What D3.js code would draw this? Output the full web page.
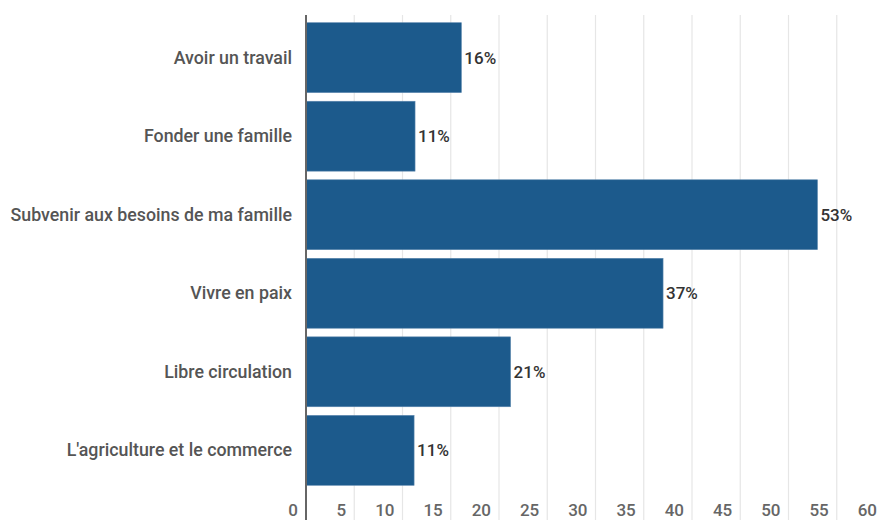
<!DOCTYPE html>
<html>
<head>
<meta charset="utf-8">
<script src="https://d3js.org/d3.v7.min.js"></script>
<style>
  body { margin: 0; background: #fff; }
  text { font-family: Roboto, "Noto Sans", sans-serif; }
</style>
</head>
<body>
<div id="chart"></div>
<script>
// データ
var categories = ["Avoir un travail", "Fonder une famille", "Subvenir aux besoins de ma famille",
                  "Vivre en paix", "Libre circulation", "L'agriculture et le commerce"];
var values = [16.1, 11.3, 53, 37, 21.2, 11.2];
var tickValues = [0, 5, 10, 15, 20, 25, 30, 35, 40, 45, 50, 55, 60];

var width = 880, height = 520;
var x0 = 306, x1 = 885;

var svg = d3.select("#chart").append("svg")
  .attr("width", width).attr("height", height);

var x = d3.scaleLinear().domain([0, 60]).range([x0, x1]);
var y = d3.scaleBand().domain(categories).range([18, 490])
  .paddingInner(0.11).paddingOuter(0.06);

// グリッド線
svg.selectAll(".grid").data(tickValues.slice(1)).enter()
  .append("line")
  .attr("x1", d => x(d)).attr("x2", d => x(d))
  .attr("y1", 15).attr("y2", height)
  .attr("stroke", "#e6e6e6").attr("stroke-width", 1.2);

// 目盛りラベル
svg.selectAll(".tick").data(tickValues).enter()
  .append("text")
  .text(d => d)
  .attr("x", d => x(d) - 8)
  .attr("y", 516)
  .attr("text-anchor", "end")
  .style("font-size", "17px")
  .style("font-weight", 500)
  .style("fill", "#666");

// 棒
svg.selectAll(".bar").data(values).enter()
  .append("rect")
  .attr("x", x(0))
  .attr("y", (d, i) => y(categories[i]))
  .attr("width", d => x(d) - x(0))
  .attr("height", y.bandwidth())
  .attr("fill", "#1c5a8c")
  .attr("stroke", "#5a86ad")
  .attr("stroke-width", 0.6);

// 軸線
svg.append("line")
  .attr("x1", x0).attr("x2", x0)
  .attr("y1", 15).attr("y2", height)
  .attr("stroke", "#666").attr("stroke-width", 2);

// カテゴリラベル
svg.selectAll(".cat").data(categories).enter()
  .append("text")
  .text(d => d)
  .attr("x", 292)
  .attr("y", d => y(d) + y.bandwidth() / 2 + 6)
  .attr("text-anchor", "end")
  .style("font-size", "17.8px")
  .style("font-weight", 500)
  .style("fill", "#555");

// 値ラベル
svg.selectAll(".val").data(values).enter()
  .append("text")
  .text(d => Math.round(d) + "%")
  .attr("x", d => x(d) + 3)
  .attr("y", (d, i) => y(categories[i]) + y.bandwidth() / 2 + 6)
  .style("font-size", "17px")
  .style("font-weight", 500)
  .style("fill", "#333");
</script>
</body>
</html>
